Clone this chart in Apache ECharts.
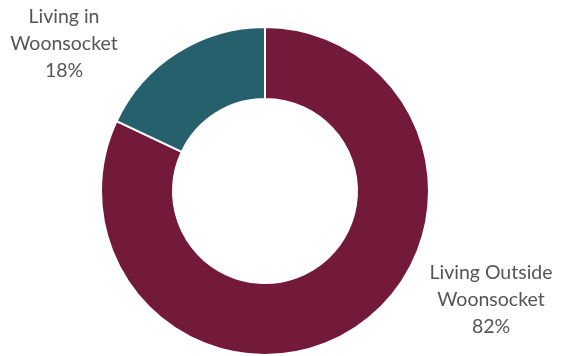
<!DOCTYPE html>
<html>
<head>
<meta charset="utf-8">
<script src="https://cdn.jsdelivr.net/npm/echarts@6/dist/echarts.min.js"></script>
<style>
  html, body { margin: 0; padding: 0; background: #fff; }
  #chart { width: 561px; height: 356px; }
</style>
</head>
<body>
<div id="chart"></div>
<script>
// Where residents live: share inside vs. outside Woonsocket
const categories = ['Living Outside Woonsocket', 'Living in Woonsocket'];
const shares = [82, 18];
const colors = ['#731A3B', '#27606D'];

// Label anchor points (pixel centres of each label block)
const labelAnchors = [
  { x: 491, y: 300 },
  { x: 64, y: 44 }
];

const chart = echarts.init(document.getElementById('chart'), null, { renderer: 'canvas' });

chart.setOption({
  animation: false,
  series: [{
    type: 'pie',
    center: [265, 191],
    radius: [92, 164],
    startAngle: 90,
    clockwise: true,
    avoidLabelOverlap: false,
    itemStyle: { borderColor: '#ffffff', borderWidth: 2 },
    label: {
      show: true,
      position: 'outside',
      formatter: p => p.name.replace(' Woonsocket', '\nWoonsocket') + '\n' + p.percent + '%',
      fontFamily: 'Lato',
      fontSize: 19.5,
      lineHeight: 27,
      color: '#555555',
      align: 'center'
    },
    labelLine: { show: false },
    labelLayout: params => ({
      x: labelAnchors[params.dataIndex].x,
      y: labelAnchors[params.dataIndex].y,
      align: 'center',
      verticalAlign: 'middle'
    }),
    data: categories.map((name, i) => ({
      name: name,
      value: shares[i],
      itemStyle: { color: colors[i] }
    }))
  }]
});
</script>
</body>
</html>
